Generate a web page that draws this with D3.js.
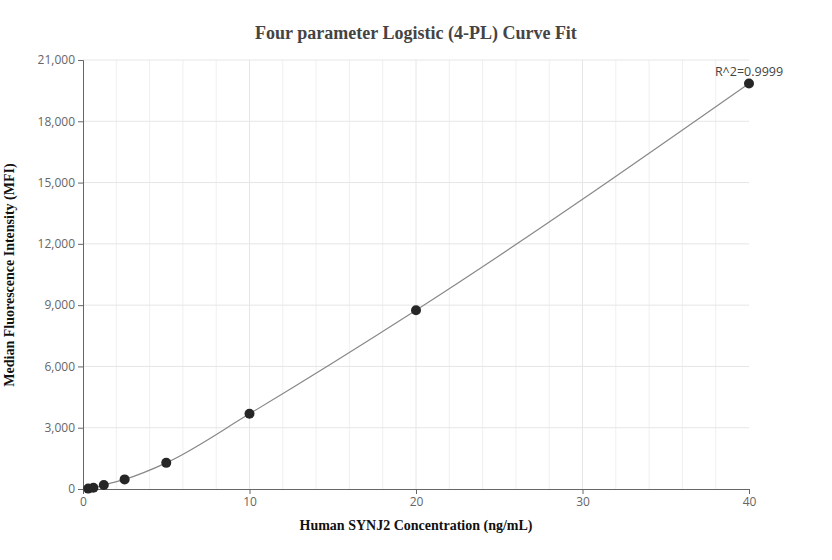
<!DOCTYPE html><html><head><meta charset="utf-8"><script src="https://cdn.jsdelivr.net/npm/d3@7"></script>
<style>body{margin:0;background:#fff}</style></head><body><svg id="c" width="832" height="560"></svg>
<script>
const conc=[0.3125,0.625,1.25,2.5,5,10,20,40];
const mfi=[20,60,200,470,1280,3680,8750,19850];
const yTicks=[0,3000,6000,9000,12000,15000,18000,21000];
const xTicks=[0,10,20,30,40];
const svg=d3.select("#c");
const x=d3.scaleLinear().domain([0,40]).range([83,749]);
const y=d3.scaleLinear().domain([0,21000]).range([489,60]);
const g=svg.append("g");
d3.range(2,40,2).forEach(v=>g.append("line").attr("x1",x(v)).attr("x2",x(v)).attr("y1",60).attr("y2",489).attr("stroke",v%10?"#f0f0f0":"#e6e6e6"));
yTicks.slice(1).forEach(v=>g.append("line").attr("x1",83).attr("x2",749).attr("y1",y(v)).attr("y2",y(v)).attr("stroke","#e6e6e6"));
const xa=svg.append("g").attr("transform","translate(0,489)").call(d3.axisBottom(x).tickValues(xTicks).tickSize(5));
const ya=svg.append("g").attr("transform","translate(83,0)").call(d3.axisLeft(y).tickValues(yTicks).tickFormat(d3.format(",")).tickSize(5));
[xa,ya].forEach(a=>{a.selectAll("path,line").attr("stroke","#666");a.selectAll("text").attr("fill","#666").attr("font-family","Open Sans, sans-serif").attr("font-size",12);});
const pts=conc.map((c,i)=>[c,mfi[i]]);
svg.append("path").datum([[0,0],...pts]).attr("fill","none").attr("stroke","#888").attr("stroke-width",1.2)
 .attr("d",d3.line().x(d=>x(d[0])).y(d=>y(d[1])).curve(d3.curveMonotoneX));
svg.selectAll("circle.p").data(pts).join("circle").attr("cx",d=>x(d[0])).attr("cy",d=>y(d[1])).attr("r",5).attr("fill","#262626");
svg.append("text").attr("x",749).attr("y",76).attr("text-anchor","middle").attr("font-family","Open Sans, sans-serif").attr("font-size",12.5).attr("fill","#444").text("R^2=0.9999");
svg.append("text").attr("x",416).attr("y",39).attr("text-anchor","middle").attr("font-family","Liberation Serif, serif").attr("font-weight","bold").attr("font-size",18).attr("fill","#444").text("Four parameter Logistic (4-PL) Curve Fit");
svg.append("text").attr("x",416).attr("y",530).attr("text-anchor","middle").attr("font-family","Liberation Serif, serif").attr("font-weight","bold").attr("font-size",14).attr("fill","#111").text("Human SYNJ2 Concentration (ng/mL)");
svg.append("text").attr("transform","translate(14,275) rotate(-90)").attr("text-anchor","middle").attr("font-family","Liberation Serif, serif").attr("font-weight","bold").attr("font-size",14).attr("fill","#111").text("Median Fluorescence Intensity (MFI)");
</script></body></html>
